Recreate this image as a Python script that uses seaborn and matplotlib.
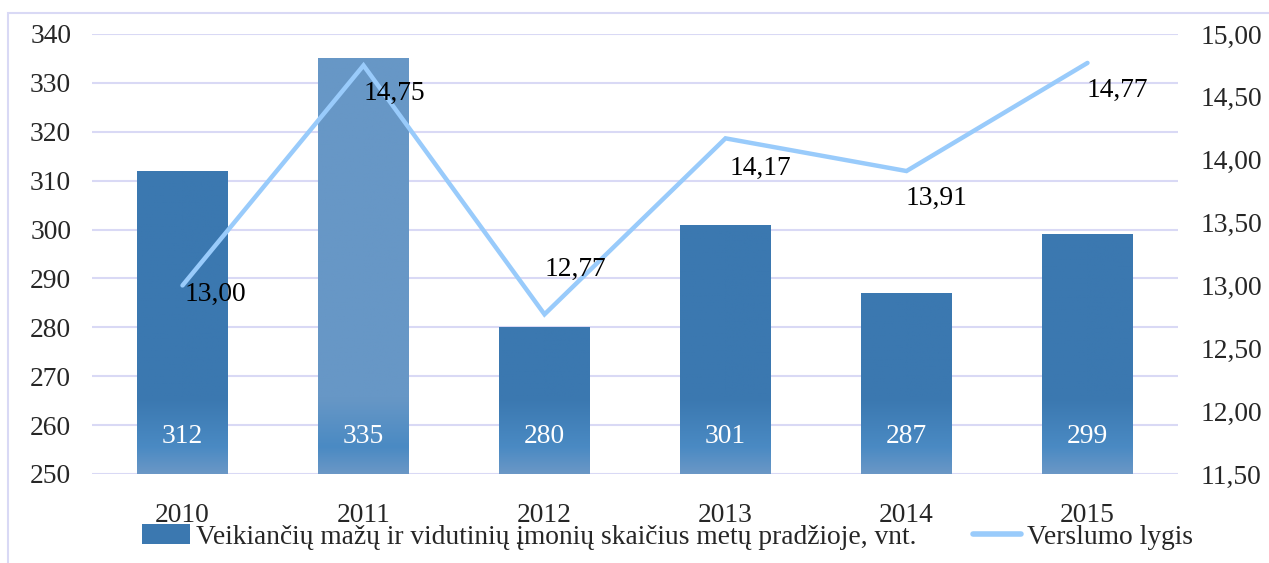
import numpy as np
import pandas as pd
import matplotlib
matplotlib.use("Agg")
import matplotlib.pyplot as plt
import seaborn as sns
from matplotlib.patches import Patch, Rectangle
from matplotlib.lines import Line2D
from matplotlib.colors import LinearSegmentedColormap
from matplotlib.ticker import FuncFormatter

years = ["2010", "2011", "2012", "2013", "2014", "2015"]
imones = [312, 335, 280, 301, 287, 299]
verslumas = [13.00, 14.75, 12.77, 14.17, 13.91, 14.77]
bar_name = "Veikiančių mažų ir vidutinių įmonių skaičius metų pradžioje, vnt."
line_name = "Verslumo lygis"

sns.set_style("white")
plt.rcParams['font.family'] = ['Liberation Serif', 'DejaVu Serif']
FS = 19.8
DARK = "#3b78b0"
LIGHT = "#6797c6"
LINEC = "#99cbfb"
GRID = "#d9d9f5"

df = pd.DataFrame({"Metai": years, "Imones": imones, "Verslumas": verslumas})

fig = plt.figure(figsize=(12.69, 5.63), dpi=100)
ax = fig.add_axes([92/1269, 1-474/563, (1178-92)/1269, (474-34)/563])

sns.barplot(data=df, x="Metai", y="Imones", color=DARK, width=0.5, ax=ax, zorder=2)
ax.set_ylim(250, 340)
ax.set_yticks(range(250, 341, 10))
ax.set_xlim(-0.5, len(years) - 0.5)
ax.yaxis.grid(True, color=GRID, lw=1.5)
ax.set_axisbelow(True)
for s in ax.spines.values():
    s.set_visible(False)
ax.set_xlabel("")
ax.set_ylabel("")
ax.tick_params(axis='y', length=0, pad=15, labelsize=FS)
ax.tick_params(axis='x', length=0, pad=21, labelsize=FS)

# gradient fill like the office chart
for i, p in enumerate(ax.patches):
    x0 = p.get_x()
    w = p.get_width()
    base = LIGHT if i == 1 else DARK
    cmap = LinearSegmentedColormap.from_list(
        "g", [(0, "#6a97c6"), (0.06, "#4a8ac3"), (0.17, base), (1, base)])
    grad = np.linspace(0, 1, 256).reshape(-1, 1)
    im = ax.imshow(grad, extent=[x0, x0 + w, 250, 340], origin='lower',
                   cmap=cmap, aspect='auto', zorder=2.5)
    im.set_clip_path(p)
    p.set_facecolor("none")
    p.set_edgecolor("none")
ax.set_xlim(-0.5, len(years) - 0.5)
ax.set_ylim(250, 340)

for i, v in enumerate(imones):
    ax.text(i, 257.6, str(v), color="white", fontsize=FS, ha="center", va="center", zorder=4)

ax2 = ax.twinx()
ax2.plot(range(len(years)), verslumas, color=LINEC, lw=3.2, zorder=3, solid_joinstyle='miter')
ax2.set_ylim(11.5, 15.0)
ax2.set_yticks(np.arange(11.5, 15.01, 0.5))
ax2.yaxis.set_major_formatter(FuncFormatter(lambda v, _: f"{v:.2f}".replace(".", ",")))
ax2.tick_params(axis='y', length=0, pad=16, labelsize=FS)
for s in ax2.spines.values():
    s.set_visible(False)
ax2.grid(False)

offs = [(33, -9), (31, -28), (31, 45), (35, -30), (30, -27), (30, -27)]
for i, v in enumerate(verslumas):
    ax2.annotate(f"{v:.2f}".replace(".", ","), (i, v), xytext=offs[i],
                 textcoords="offset pixels", ha="center", va="center",
                 fontsize=FS, color="black", zorder=5)

handles = [Patch(facecolor=DARK, edgecolor="none"),
           Line2D([0], [0], color=LINEC, lw=4)]
fig.legend(handles, [bar_name, line_name], loc="center left",
           bbox_to_anchor=(142/1269, 1-537/563), ncol=2, frameon=False,
           fontsize=FS, borderpad=0, borderaxespad=0, handlelength=1.75,
           handleheight=0.7, handletextpad=0.22, columnspacing=2.05)

fig.add_artist(Rectangle((8/1269, -0.05), 1.0, 1-13/563+0.05, transform=fig.transFigure,
                         fill=False, edgecolor=GRID, lw=1.5))

fig.savefig("out.png", dpi=100)
